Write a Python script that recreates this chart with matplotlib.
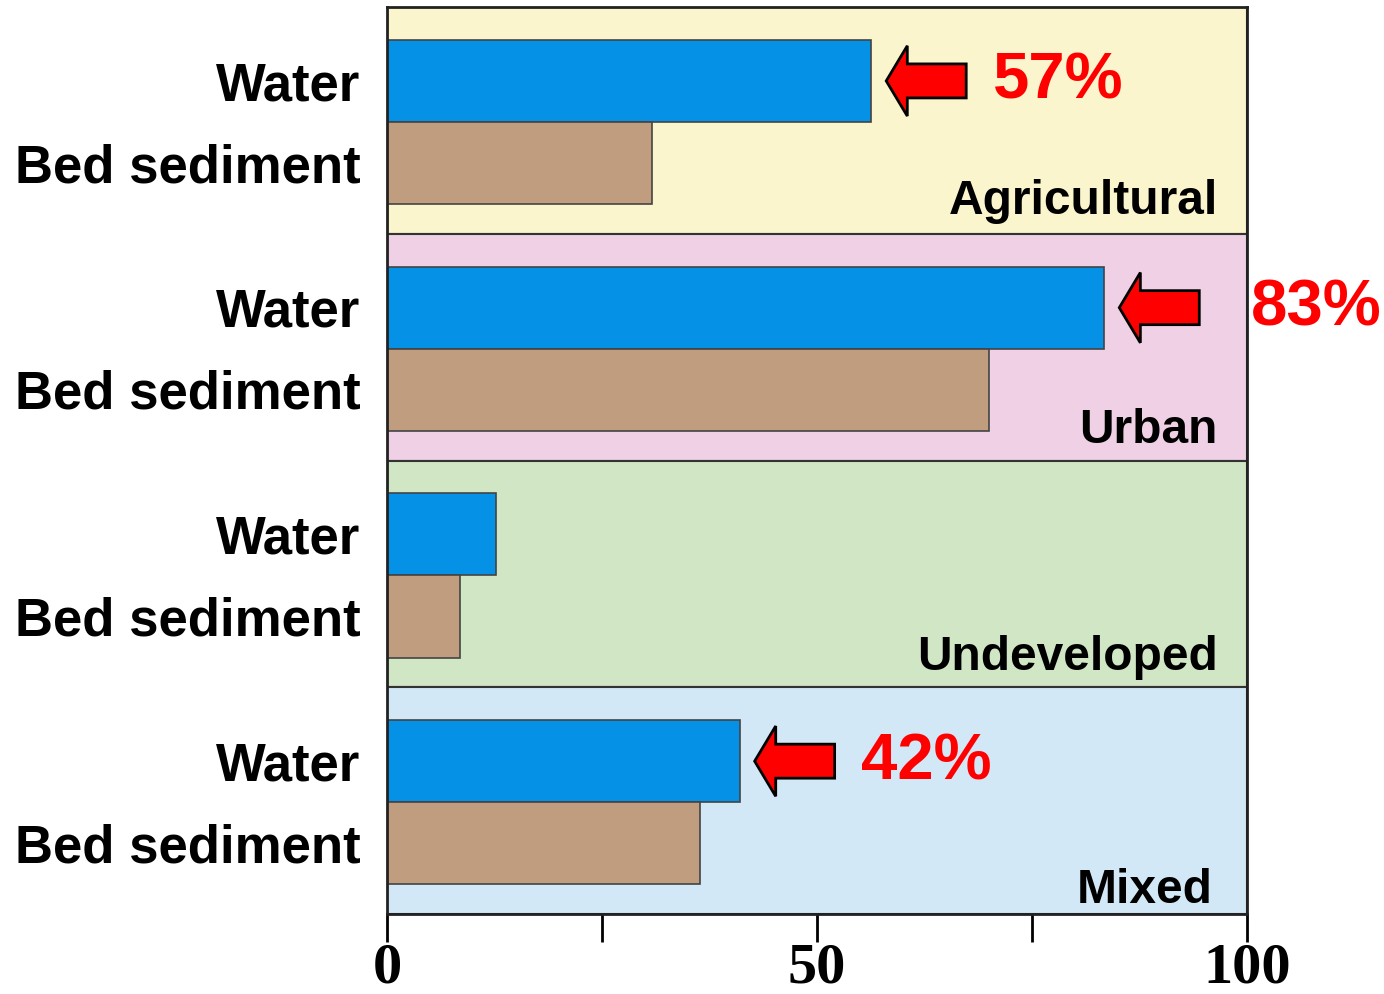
import matplotlib
matplotlib.use("Agg")
import matplotlib.pyplot as plt
from matplotlib.patches import Rectangle, Polygon

# ---- data ----
land_uses = ["Agricultural", "Urban", "Undeveloped", "Mixed"]
water = [56.3, 83.4, 12.7, 41.0]
bed_sediment = [30.8, 70.0, 8.5, 36.4]
highlight = ["57%", "83%", None, "42%"]
row_labels = ["Water", "Bed sediment"]
xticks = [0, 25, 50, 75, 100]
xticklabels = ["0", "", "50", "", "100"]

panel_colors = ["#FAF5CC", "#EFD0E4", "#D0E6C4", "#D2E8F7"]
water_color = "#0592E6"
bed_color = "#C19D80"

# layout (positions within each panel, fraction of panel height)
name_baseline = [0.907, 0.92, 0.92, 0.945]
name_right = [96.6, 96.6, 96.6, 96.0]

W, H = 1384, 995
fig = plt.figure(figsize=(W / 100, H / 100), dpi=100)
left, right, top, bottom = 387, 1247, 8, 915
ax = fig.add_axes([left / W, 1 - bottom / H, (right - left) / W, (bottom - top) / H])
ax.set_xlim(0, 100)
ax.set_ylim(4, 0)

bar_h = 0.362
w_off, b_off = 0.326, 0.688
cap_half = 0.08

for i, name in enumerate(land_uses):
    ax.add_patch(Rectangle((0, i), 100, 1, facecolor=panel_colors[i],
                           edgecolor="#333333", linewidth=1.5, zorder=0))
    ax.barh(i + w_off, water[i], height=bar_h, color=water_color,
            edgecolor="#444444", linewidth=1.2, zorder=2)
    ax.barh(i + b_off, bed_sediment[i], height=bar_h, color=bed_color,
            edgecolor="#444444", linewidth=1.2, zorder=2)
    ax.text(name_right[i], i + name_baseline[i], name, ha="right", va="baseline",
            fontsize=34.5, fontweight="bold", family="Liberation Sans", zorder=3)
    ax.text(-3.1, i + w_off + cap_half, row_labels[0], ha="right", va="baseline",
            fontsize=38, fontweight="bold", family="Liberation Sans",
            clip_on=False)
    ax.text(-3.1, i + b_off + cap_half, row_labels[1], ha="right", va="baseline",
            fontsize=38, fontweight="bold", family="Liberation Sans",
            clip_on=False)
    if highlight[i]:
        tip = water[i] + 1.75
        head_len = 2.45
        length = 9.3
        yc = i + w_off
        hh, sh = 0.155, 0.075
        pts = [(tip, yc), (tip + head_len, yc - hh), (tip + head_len, yc - sh),
               (tip + length, yc - sh), (tip + length, yc + sh),
               (tip + head_len, yc + sh), (tip + head_len, yc + hh)]
        ax.add_patch(Polygon(pts, closed=True, facecolor="#FF0000",
                             edgecolor="black", linewidth=2, zorder=4,
                             clip_on=False))
        tx = tip + length + 3.1
        if tx > 88:
            tx = 100.4
        ax.text(tx, yc, highlight[i], ha="left", va="center",
                fontsize=47, fontweight="bold", color="#FF0000",
                family="Liberation Sans", clip_on=False, zorder=4)

ax.set_yticks([])
ax.set_xticks(xticks)
ax.set_xticklabels(xticklabels, fontsize=42, fontweight="bold",
                   family="Liberation Serif")
ax.tick_params(axis="x", direction="out", length=20, width=2, pad=0)
for s in ["left", "right", "top", "bottom"]:
    ax.spines[s].set_linewidth(2)
    ax.spines[s].set_color("#222222")

fig.savefig("out.png", dpi=100)
